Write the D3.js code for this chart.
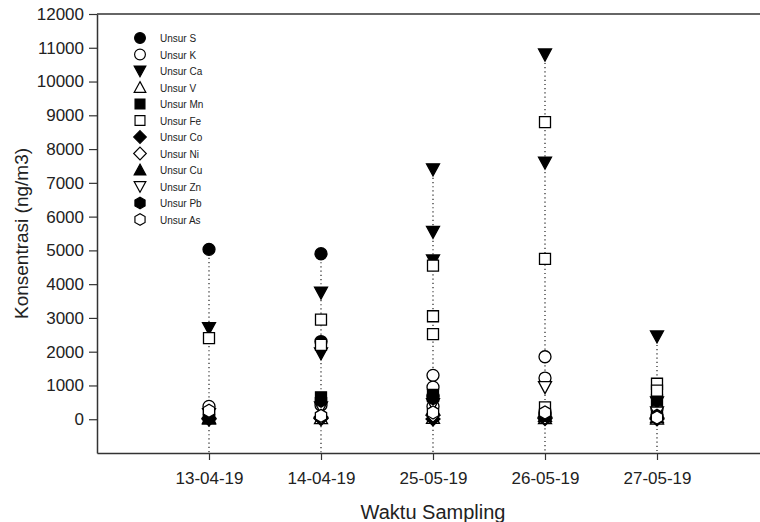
<!DOCTYPE html>
<html lang="en">
<head>
<meta charset="UTF-8" />
<title>Konsentrasi Unsur</title>
<style>
  body { margin: 0; background: #fff; }
  text { font-family: Arial, "Liberation Sans", sans-serif; fill: #222; }
</style>
</head>
<body>
<script src="https://cdn.jsdelivr.net/npm/d3@7"></script>
<div id="app"></div>
<script>
// Data (ng/m3), one list per date because some dates have several samples
const dates = ["13-04-19", "14-04-19", "25-05-19", "26-05-19", "27-05-19"];
const unsur = ["Unsur S", "Unsur K", "Unsur Ca", "Unsur V", "Unsur Mn", "Unsur Fe",
               "Unsur Co", "Unsur Ni", "Unsur Cu", "Unsur Zn", "Unsur Pb", "Unsur As"];
const S  = [[5030], [4900, 2300], [680], [150], [80]];
const K  = [[380], [420], [1300, 950, 380], [1850, 1220], [300]];
const Ca = [[2700], [3750, 1950], [7400, 5550, 4700], [10800, 7600], [2450, 500]];
const V  = [[20], [30], [40], [30], [20]];
const Mn = [[60], [650], [720], [80], [560]];
const Fe = [[2400], [2950, 2200], [4550, 3050, 2520], [8800, 4750, 350], [1050, 850]];
const Co = [[10], [20], [10], [20], [10]];
const Ni = [[30], [60], [120], [60], [40]];
const Cu = [[40], [200], [300], [100], [60]];
const Zn = [[150], [350], [450], [950], [200]];
const Pb = [[50], [550], [620], [150], [100]];
const As = [[250], [100], [200], [200], [50]];
const yTicks = d3.range(0, 12001, 1000);

const nilai = [S, K, Ca, V, Mn, Fe, Co, Ni, Cu, Zn, Pb, As];
// symbol per element: shape, filled?
const simbol = [
  ["circle", true], ["circle", false], ["triDown", true], ["triUp", false],
  ["square", true], ["square", false], ["diamond", true], ["diamond", false],
  ["triUp", true], ["triDown", false], ["hexagon", true], ["hexagon", false]
];

const w = 760, h = 522;
const svg = d3.select("#app").append("svg")
  .attr("width", w).attr("height", h);

const x = d3.scaleLinear().domain([0, 6]).range([97, 769]);
const y = d3.scaleLinear().domain([-1000, 12000]).range([453, 14]);

// symbol paths
const shape = (type) => {
  const p = d3.path();
  if (type === "circle") { p.arc(0, 0, 6, 0, 2 * Math.PI); }
  else if (type === "triDown") { p.moveTo(-6.5, -5.5); p.lineTo(6.5, -5.5); p.lineTo(0, 6.5); p.closePath(); }
  else if (type === "triUp") { p.moveTo(0, -6.5); p.lineTo(6.5, 5.5); p.lineTo(-6.5, 5.5); p.closePath(); }
  else if (type === "square") { p.rect(-5.5, -5.5, 11, 11); }
  else if (type === "diamond") { p.moveTo(0, -7); p.lineTo(7, 0); p.lineTo(0, 7); p.lineTo(-7, 0); p.closePath(); }
  else if (type === "hexagon") {
    for (let k = 0; k < 6; k++) {
      const a = Math.PI / 2 + k * Math.PI / 3;
      const px = 6.5 * Math.cos(a), py = 6.5 * Math.sin(a);
      if (k === 0) p.moveTo(px, py); else p.lineTo(px, py);
    }
    p.closePath();
  }
  return p.toString();
};

// frame top line
svg.append("line").attr("x1", x(0)).attr("x2", w).attr("y1", y(12000)).attr("y2", y(12000))
  .attr("stroke", "#333").attr("stroke-width", 1.5);

// axes
const xAxis = d3.axisBottom(x).tickValues([1, 2, 3, 4, 5])
  .tickFormat((d) => dates[d - 1]).tickSize(7).tickPadding(12).tickSizeOuter(0);
const gx = svg.append("g").attr("transform", "translate(0," + y(-1000) + ")").call(xAxis);
gx.select(".domain").attr("stroke", "#333").attr("stroke-width", 1.5);
gx.selectAll(".tick line").attr("stroke", "#333").attr("stroke-width", 1.2);
gx.selectAll("text").style("font-size", "17px").attr("fill", "#222");

const yAxis = d3.axisLeft(y).tickValues(yTicks).tickFormat(d3.format("d"))
  .tickSize(8).tickPadding(5).tickSizeOuter(0);
const gy = svg.append("g").attr("transform", "translate(" + x(0) + ",0)").call(yAxis);
gy.select(".domain").attr("stroke", "#333").attr("stroke-width", 1.5);
gy.selectAll(".tick line").attr("stroke", "#333").attr("stroke-width", 1.2);
gy.selectAll("text").style("font-size", "17px").attr("fill", "#222");

// axis titles
svg.append("text").attr("x", x(3)).attr("y", 519).attr("text-anchor", "middle")
  .style("font-size", "20px").text("Waktu Sampling");
svg.append("text").attr("transform", "translate(28," + y(5500) + ") rotate(-90)")
  .attr("text-anchor", "middle").style("font-size", "19px").text("Konsentrasi (ng/m3)");

// dotted drop lines per date
dates.forEach((d, i) => {
  const top = d3.max(nilai, (s) => d3.max(s[i]));
  svg.append("line").attr("x1", x(i + 1)).attr("x2", x(i + 1))
    .attr("y1", y(top)).attr("y2", y(-1000))
    .attr("stroke", "#222").attr("stroke-width", 1.2).attr("stroke-dasharray", "1.2,3");
});

// points
nilai.forEach((serie, si) => {
  const pts = [];
  serie.forEach((vals, di) => vals.forEach((v) => pts.push([di + 1, v])));
  svg.append("g").selectAll("path").data(pts).enter().append("path")
    .attr("d", shape(simbol[si][0]))
    .attr("transform", (p) => "translate(" + x(p[0]) + "," + y(p[1]) + ")")
    .attr("fill", simbol[si][1] ? "#000" : "#fff")
    .attr("stroke", "#000").attr("stroke-width", 1.3);
});

// legend
const leg = svg.append("g");
unsur.forEach((u, i) => {
  const yy = 38 + i * 16.5;
  leg.append("path").attr("d", shape(simbol[i][0]))
    .attr("transform", "translate(140," + yy + ") scale(0.9)")
    .attr("fill", simbol[i][1] ? "#000" : "#fff")
    .attr("stroke", "#000").attr("stroke-width", 1.3);
  leg.append("text").attr("x", 160).attr("y", yy + 4).style("font-size", "10px").text(u);
});
</script>
</body>
</html>
